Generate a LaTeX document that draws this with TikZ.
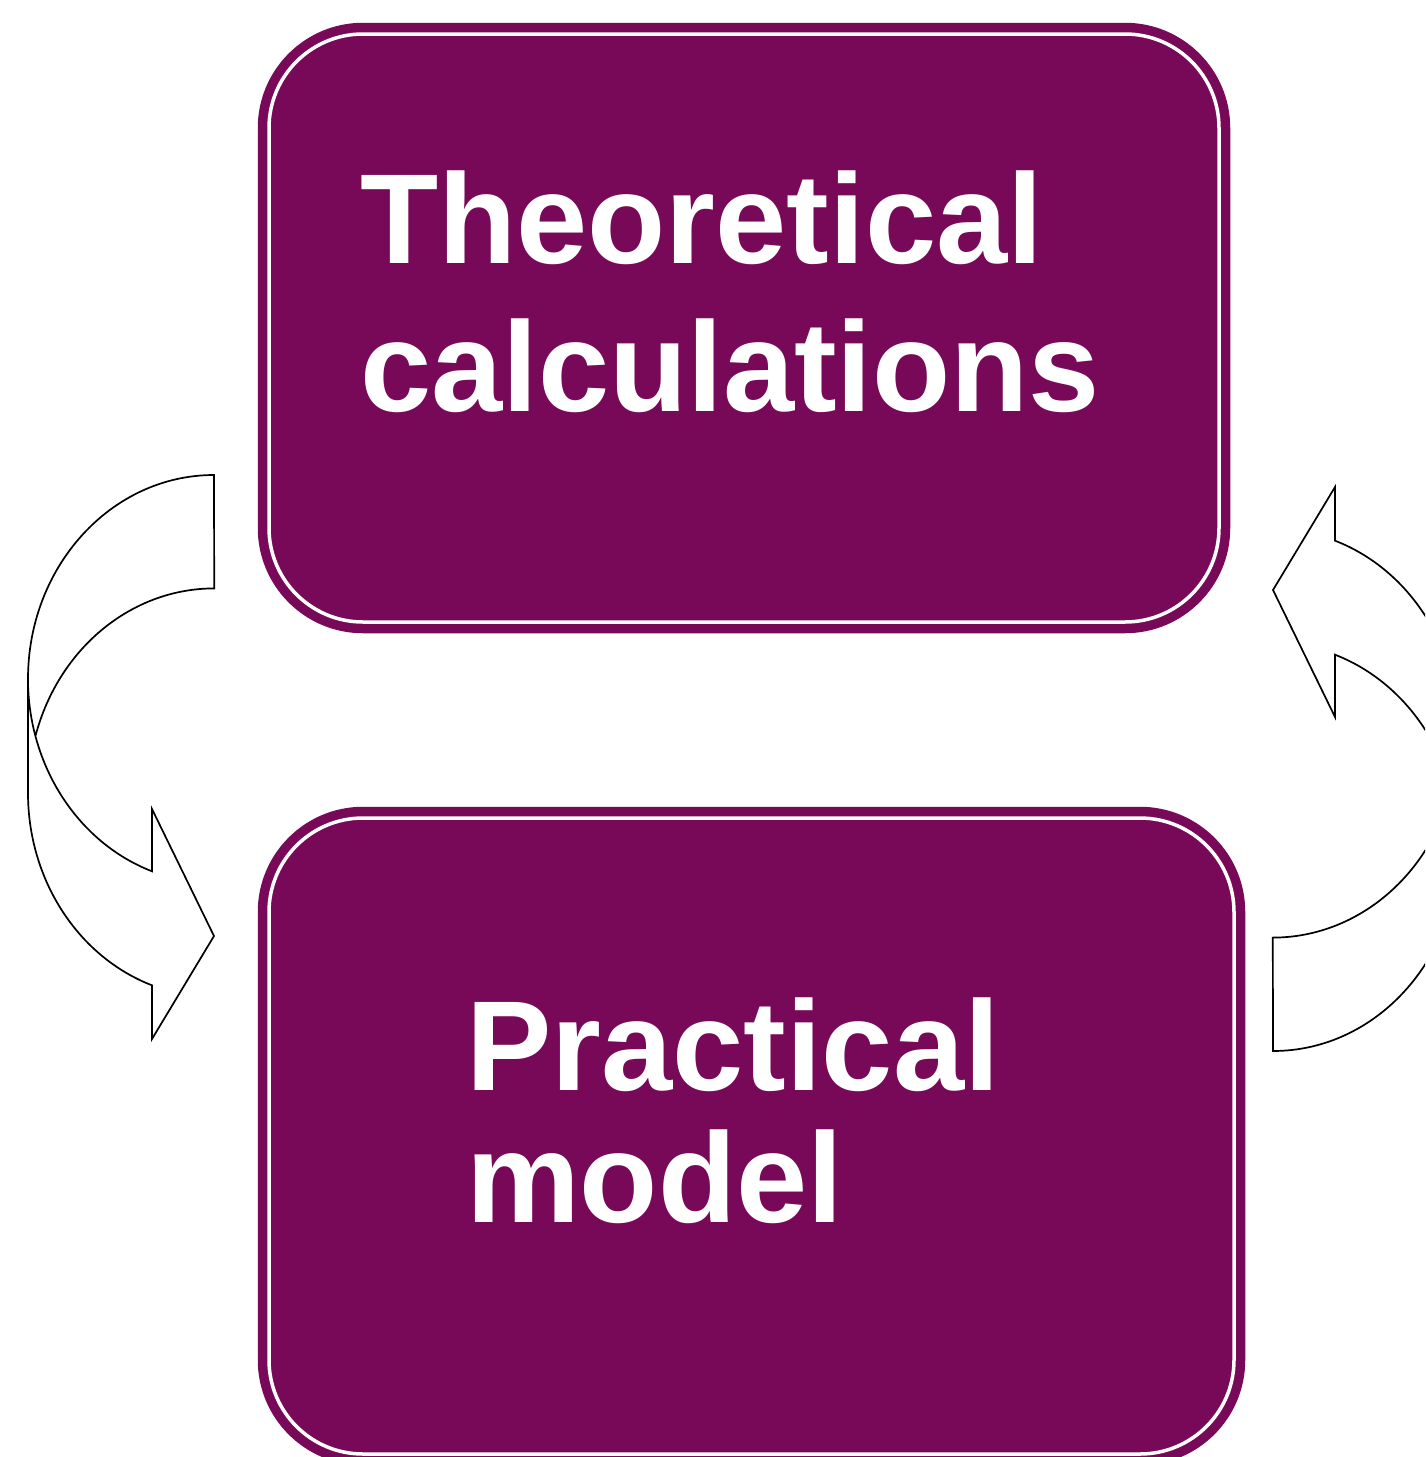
\documentclass[tikz,border=0pt]{standalone}
\usepackage{fontspec}
\setmainfont{Liberation Sans}
\usetikzlibrary{calc}
\definecolor{plum}{RGB}{120,9,88}
\tikzset{
  box/.style={rectangle, draw=plum, fill=plum, line width=9.5pt, double=white,
    double distance=3.5pt, rounded corners=94pt, inner sep=0pt},
  label/.style={font=\fontsize{128}{148}\selectfont\bfseries, text=white,
    inner sep=0pt, anchor=base west},
  curved/.style={draw=black, line width=1.7pt, line join=miter}
}
\newcommand{\curvedarrow}{%
  \draw[curved] (35.6,735.5)
    arc[start angle=196.2, end angle=270, x radius=186, y radius=204]
    -- (214,475)
    arc[start angle=270, end angle=180, x radius=186, y radius=204]
    -- (28,793)
    arc[start angle=180, end angle=109.47, x radius=186, y radius=204]
    -- (152,1039) -- (214,936) -- (152,809) -- (152,871.3)
    arc[start angle=109.47, end angle=180, x radius=186, y radius=204];
}
\begin{document}
\begin{tikzpicture}[x=1pt, y=-1pt]
\useasboundingbox (0,0) rectangle (1425,1457);
\clip (0,0) rectangle (1425,1457);
\fill[white] (0,0) rectangle (1425,1457);
% boxes
\node[box, minimum width=950pt, minimum height=588pt] (theory) at (744,328) {};
\node[box, minimum width=965pt, minimum height=636pt] (practice) at (751.5,1136) {};
% texts
\node[label] (t1) at (360,263) {Theoretical};
\node[label] (t2) at (360,411) {calculations};
\node[label] (p1) at (466,1090) {Practical};
\node[label] (p2) at (466,1222) {model};
% curved arrows
\begin{scope}
  \curvedarrow
\end{scope}
\begin{scope}[rotate around={180:(743.5,763)}]
  \curvedarrow
\end{scope}
\end{tikzpicture}
\end{document}
